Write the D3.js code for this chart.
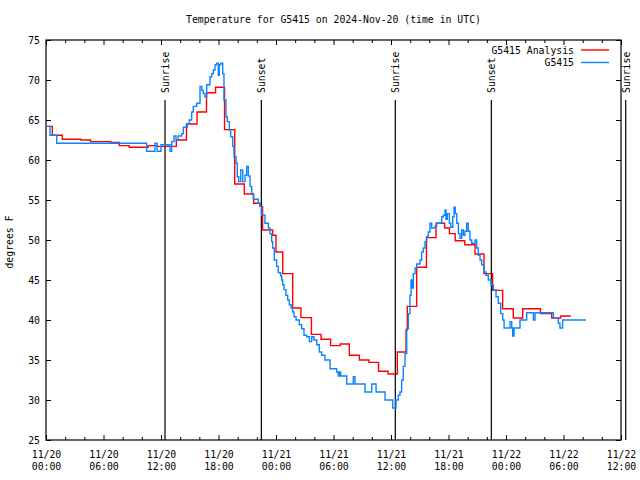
<!DOCTYPE html>
<html><head><meta charset="utf-8">
<script src="https://cdn.jsdelivr.net/npm/d3@7"></script>
<style>
body{margin:0;background:#fff;}
text{font-family:"DejaVu Sans Mono",monospace;font-size:9.8px;fill:#000;}
</style></head><body>
<svg id="c" width="640" height="480"></svg>
<script>
// ---- data (hours since 2024-11-20 00:00 UTC) ----
const titleText = "Temperature for G5415 on 2024-Nov-20 (time in UTC)";
const yLabel = "degrees F";
const seriesNames = ["G5415 Analysis", "G5415"];
const seriesColors = ["#ff0000", "#0d84ff"];
const xTickLabels = ["11/20\n00:00","11/20\n06:00","11/20\n12:00","11/20\n18:00","11/21\n00:00","11/21\n06:00","11/21\n12:00","11/21\n18:00","11/22\n00:00","11/22\n06:00","11/22\n12:00"];
const yTicks = [25,30,35,40,45,50,55,60,65,70,75];
const sunEvents = [[12.42,"Sunrise"],[22.47,"Sunset"],[36.45,"Sunrise"],[46.47,"Sunset"],[60.49,"Sunrise"]];

const analysisHours = [0,0.66,1.70,3.65,4.66,6.75,7.65,8.69,10.67,11.6,13.6,14.66,15.76,16.75,17.69,18.63,19.69,20.69,21.67,22.33,22.6,23.65,24.0,24.7,25.74,26.6,27.7,28.7,29.7,30.7,31.65,32.7,33.7,34.7,35.7,36.66,37.57,37.7,38.68,39.7,40.7,41.6,42.1,42.7,43.7,44.77,45.7,46.6,47.65,48.76,49.74,51.6,52.77,53.7,54.75];
const analysisTemps = [64.2,63.1,62.6,62.5,62.3,62.2,61.8,61.6,61.8,61.7,62.5,64.5,66.0,68.4,69.1,63.8,57.0,55.75,54.6,54.2,51.25,50.6,48.5,45.8,41.5,40.3,38.2,37.6,36.8,37.0,35.6,35.0,34.7,33.6,33.25,36.0,38.75,41.7,46.6,50.3,52.1,51.5,50.8,49.9,49.4,48.25,45.8,43.7,41.4,40.25,41.4,40.8,40.25,40.5,40.5];

const obsHours = [0,0.42,1.12,10.5,11.37,11.6,12.0,12.94,13.12,13.36,13.57,13.8,14.16,14.33,14.74,14.95,15.2,15.37,15.73,16.07,16.25,16.41,16.59,16.77,17.11,17.29,17.46,17.64,17.81,17.98,18.08,18.23,18.44,18.57,18.78,18.92,19.13,19.27,19.48,19.62,19.83,19.96,20.11,20.32,20.53,20.77,20.94,21.11,21.29,21.47,21.63,22.15,22.33,22.51,22.85,23.2,23.37,23.55,23.65,23.82,24.07,24.24,24.49,24.6,24.7,24.84,25.04,25.22,25.39,25.57,25.74,25.88,26.09,26.43,26.68,26.92,27.2,27.48,27.73,27.97,28.25,28.52,28.77,29.11,29.64,30.33,30.5,30.6,30.75,31.38,32.07,32.24,33.29,33.99,34.44,35.38,36.18,36.52,36.76,36.94,37.11,37.28,37.46,37.64,37.81,37.98,38.09,38.22,38.33,38.51,38.68,39.03,39.2,39.37,39.55,39.73,39.89,40.07,40.25,40.59,40.77,41.29,41.46,41.64,41.74,41.88,42.09,42.23,42.44,42.58,42.71,42.86,43.03,43.2,43.38,43.55,43.72,43.9,44.06,44.24,44.42,44.77,44.94,45.11,45.29,45.46,45.7,45.91,46.15,46.44,46.68,46.96,47.2,47.45,47.66,47.8,48.42,48.6,48.7,48.84,49.46,50.16,50.86,51.03,52.94,53.46,53.63,53.91,56.35];
const obsTemps = [64.2,63.1,62.1,61.1,62.1,61.1,61.9,61.1,62.3,63.0,62.5,63.0,63.3,64.1,64.5,65.0,66.0,66.7,67.1,69.2,68.7,68.3,67.9,69.4,70.4,70.8,71.25,71.9,72.1,70.6,71.9,72.1,70.8,67.5,65.4,64.8,63.75,62.9,61.7,60.4,59.6,57.9,57.3,58.75,57.3,58.1,59.2,58.0,56.7,55.8,55.1,54.6,54.2,53.1,52.1,51.5,50.8,49.8,49.0,47.5,46.7,45.9,45.5,45.0,44.4,43.8,43.1,42.5,41.9,41.5,41.0,40.4,40.0,39.4,38.9,38.1,37.9,37.3,37.9,37.5,36.9,36.0,35.6,35.0,33.9,33.5,33.0,33.5,33.0,32.0,32.9,32.0,31.0,32.0,31.0,30.0,29.0,30.0,30.6,31.0,32.5,34.2,35.8,38.9,40.8,43.1,45.0,44.0,45.8,46.5,47.0,47.5,48.5,49.0,49.8,50.4,51.0,52.1,51.5,51.7,52.1,52.9,53.1,53.75,52.6,53.3,52.1,51.6,52.9,54.1,53.3,52.1,50.8,50.2,51.25,50.6,51.1,52.1,51.1,50.0,49.6,50.0,49.0,48.1,47.5,46.9,46.0,45.6,45.0,44.4,43.75,42.9,42.1,40.8,40.0,39.0,39.8,39.0,38.0,39.0,40.0,40.9,40.0,40.9,40.2,39.6,39.0,40.0,40.0];

// ---- drawing ----
const svg = d3.select("#c");
const L = 46, R = 621, T = 40, B = 440;
const x = d3.scaleLinear().domain([0, 60]).range([L, R]);
const y = d3.scaleLinear().domain([25, 75]).range([B, T]);

const majorX = d3.range(0, 61, 6);
const minorX = d3.range(0, 61, 2).filter(h => h % 6 !== 0);

// ticks
svg.append("g").attr("transform", `translate(0,${B})`)
  .call(d3.axisBottom(x).tickValues(majorX).tickSizeInner(-5).tickSizeOuter(0).tickPadding(8)
    .tickFormat((d, i) => xTickLabels[i]))
  .call(g => {
    g.select(".domain").remove();
    g.selectAll(".tick text").each(function(d, i) {
      const parts = xTickLabels[i].split("\n");
      const t = d3.select(this).text(null).attr("dy", null).attr("y", 18);
      t.append("tspan").attr("x", 0).attr("y", 18).text(parts[0]);
      t.append("tspan").attr("x", 0).attr("y", 30).text(parts[1]);
    });
  });
svg.append("g").attr("transform", `translate(0,${B})`)
  .call(d3.axisBottom(x).tickValues(minorX).tickSizeInner(-3).tickSizeOuter(0).tickFormat(""))
  .call(g => g.select(".domain").remove());
svg.append("g").attr("transform", `translate(0,${T})`)
  .call(d3.axisTop(x).tickValues(majorX).tickSizeInner(-5).tickSizeOuter(0).tickFormat(""))
  .call(g => g.select(".domain").remove());
svg.append("g").attr("transform", `translate(0,${T})`)
  .call(d3.axisTop(x).tickValues(minorX).tickSizeInner(-3).tickSizeOuter(0).tickFormat(""))
  .call(g => g.select(".domain").remove());
svg.append("g").attr("transform", `translate(${L},0)`)
  .call(d3.axisLeft(y).tickValues(yTicks).tickSizeInner(-5).tickSizeOuter(0).tickPadding(6))
  .call(g => g.select(".domain").remove());
svg.append("g").attr("transform", `translate(${R},0)`)
  .call(d3.axisRight(y).tickValues(yTicks).tickSizeInner(-5).tickSizeOuter(0).tickFormat(""))
  .call(g => g.select(".domain").remove());
svg.selectAll(".tick line").attr("stroke", "#000").attr("stroke-width", 1);
svg.selectAll(".tick text").style("font-family", "DejaVu Sans Mono").style("font-size", "9.8px");

// border
svg.append("rect").attr("x", L).attr("y", T).attr("width", R - L).attr("height", B - T)
  .attr("fill", "none").attr("stroke", "#000").attr("stroke-width", 1.2);

// sun lines
const sun = svg.append("g");
sunEvents.forEach(([h, lab]) => {
  const xx = x(h);
  sun.append("line").attr("x1", xx).attr("x2", xx).attr("y1", 100).attr("y2", B)
    .attr("stroke", "#000").attr("stroke-width", 1.2);
  sun.append("text").attr("transform", `translate(${xx + 4},93) rotate(-90)`).text(lab);
});

// series
const line = d3.line().curve(d3.curveStepAfter).x(d => x(d[0])).y(d => y(d[1]));
const analysis = analysisHours.map((h, i) => [h, analysisTemps[i]]);
const obs = obsHours.map((h, i) => [h, obsTemps[i]]);
svg.append("path").datum(analysis).attr("d", line).attr("fill", "none")
  .attr("stroke", seriesColors[0]).attr("stroke-width", 1.4);
svg.append("path").datum(obs).attr("d", line).attr("fill", "none")
  .attr("stroke", seriesColors[1]).attr("stroke-width", 1.4);

// title & labels
svg.append("text").attr("x", (L + R) / 2).attr("y", 23).attr("text-anchor", "middle").text(titleText);
svg.append("text").attr("transform", "translate(13,242) rotate(-90)").attr("text-anchor", "middle").text(yLabel);

// legend
const lg = svg.append("g");
seriesNames.forEach((n, i) => {
  const yy = 50 + i * 12.5;
  lg.append("text").attr("x", 574).attr("y", yy + 3.5).attr("text-anchor", "end").text(n);
  lg.append("line").attr("x1", 581).attr("x2", 609).attr("y1", yy).attr("y2", yy)
    .attr("stroke", seriesColors[i]).attr("stroke-width", 1.4);
});
</script></body></html>
